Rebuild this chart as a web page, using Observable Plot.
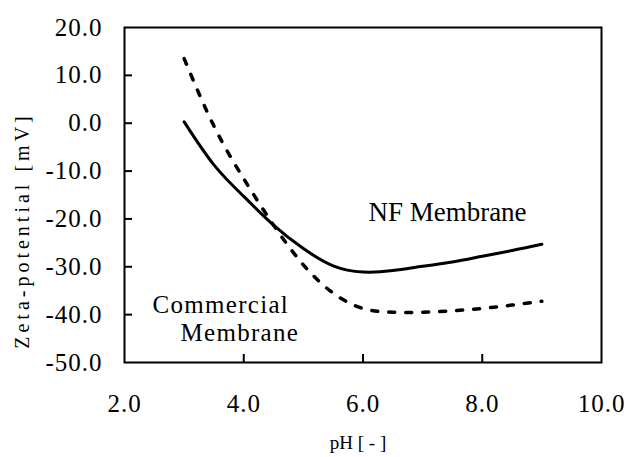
<!DOCTYPE html>
<html>
<head>
<meta charset="utf-8">
<script src="https://cdn.jsdelivr.net/npm/d3@7"></script>
<script src="https://cdn.jsdelivr.net/npm/@observablehq/plot@0.6"></script>
<style>
  html, body { margin: 0; padding: 0; background: #fff; }
  #chart { width: 627px; height: 457px; }
  #chart svg, #chart svg text { font-family: "Liberation Serif", "Times New Roman", serif !important; }
</style>
</head>
<body>
<div id="chart"></div>
<script>
// pH values (x)
const ph = [3.0, 3.5, 4.0, 4.5, 5.0, 5.5, 6.0, 6.5, 7.0, 7.5, 8.0, 8.5, 9.0];
// Zeta-potential of NF membrane (solid)
const nfZeta = [0.3, -8.7, -15.3, -21.3, -26.2, -29.8, -31.1, -30.8, -29.9, -29.0, -27.8, -26.6, -25.3];
// Zeta-potential of commercial membrane (dashed)
const commercialZeta = [13.5, -0.6, -11.6, -21.3, -29.6, -35.5, -38.7, -39.5, -39.5, -39.2, -38.7, -38.0, -37.2];
// axis ticks
const xTicks = [2, 4, 6, 8, 10];
const yTicks = [20, 10, 0, -10, -20, -30, -40, -50];
const xInnerTicks = [4, 6, 8];
const yInnerTicks = [10, 0, -10, -20, -30, -40];
// texts
const xTitle = "pH [ - ]";
const yTitle = "Zeta-potential [mV]";
const nfLabel = "NF Membrane";
const comLines = ["Commercial", "Membrane"];

const nfRows = ph.map((p, i) => ({ph: p, zeta: nfZeta[i]}));
const comRows = ph.map((p, i) => ({ph: p, zeta: commercialZeta[i]}));

const W = 627, H = 457, mL = 124, mR = 26, mT = 27, mB = 95;
const innerW = W - mL - mR, innerH = H - mT - mB;
const serif = "Liberation Serif";

const chart = Plot.plot({
  width: W,
  height: H,
  marginLeft: mL,
  marginRight: mR,
  marginTop: mT,
  marginBottom: mB,
  style: {fontFamily: serif, color: "#000", background: "#fff"},
  x: {domain: [2, 10]},
  y: {domain: [-50, 20]},
  marks: [
    Plot.axisX(xTicks, {tickSize: 0, tickPadding: 32, fontSize: 25, tickFormat: d => d.toFixed(1), label: null}),
    Plot.axisY(yTicks, {tickSize: 0, tickPadding: 22, fontSize: 25, tickFormat: d => d.toFixed(1), label: null}),
    Plot.tickY(yInnerTicks, {y: d => d, insetRight: innerW - 8, stroke: "#000", strokeWidth: 2}),
    Plot.tickX(xInnerTicks, {x: d => d, insetTop: innerH - 8, stroke: "#000", strokeWidth: 2}),
    Plot.frame({stroke: "#000", strokeWidth: 2}),
    Plot.line(nfRows, {x: "ph", y: "zeta", curve: "natural", stroke: "#000", strokeWidth: 3}),
    Plot.line(comRows, {x: "ph", y: "zeta", curve: "natural", stroke: "#000", strokeWidth: 3.5, strokeDasharray: "6,11"}),
    Plot.text([nfLabel], {frameAnchor: "top-left", dx: 447 - mL, dy: 220 - mT, textAnchor: "middle", lineAnchor: "bottom", fontSize: 27, fill: "#000"}),
    Plot.text([comLines.join("\n")], {frameAnchor: "top-left", dx: 152 - mL, dy: 340 - mT, textAnchor: "start", lineAnchor: "bottom", lineHeight: 28 / 25, fontSize: 25, fill: "#000"}),
    Plot.text([xTitle], {frameAnchor: "bottom", dx: -5, dy: 448 - (H - mB), textAnchor: "middle", lineAnchor: "bottom", fontSize: 19, fill: "#000"}),
    Plot.text([yTitle], {frameAnchor: "left", dx: 22 - mL, dy: 230 - (mT + innerH / 2), rotate: -90, textAnchor: "middle", lineAnchor: "middle", fontSize: 20, fill: "#000"})
  ]
});

d3.select(chart).attr("font-family", serif).style("font-family", serif);
d3.select(chart).selectAll("text").attr("font-family", serif);
d3.select(chart).selectAll("g[aria-label='x-axis tick label'] text, g[aria-label='y-axis tick label'] text")
  .attr("letter-spacing", "1px");
d3.select(chart).selectAll("text").filter(function() { return this.textContent === yTitle; })
  .attr("letter-spacing", "4px");
// "Commercial / Membrane" label: slight tracking and indented second line as in the reference
d3.select(chart).selectAll("text").filter(function() { return this.textContent.startsWith(comLines[0]); })
  .attr("letter-spacing", "1.3px");
d3.select(chart).selectAll("tspan").filter(function() { return this.textContent === comLines[1]; })
  .attr("dx", 28);

document.getElementById("chart").appendChild(chart);
</script>
</body>
</html>
